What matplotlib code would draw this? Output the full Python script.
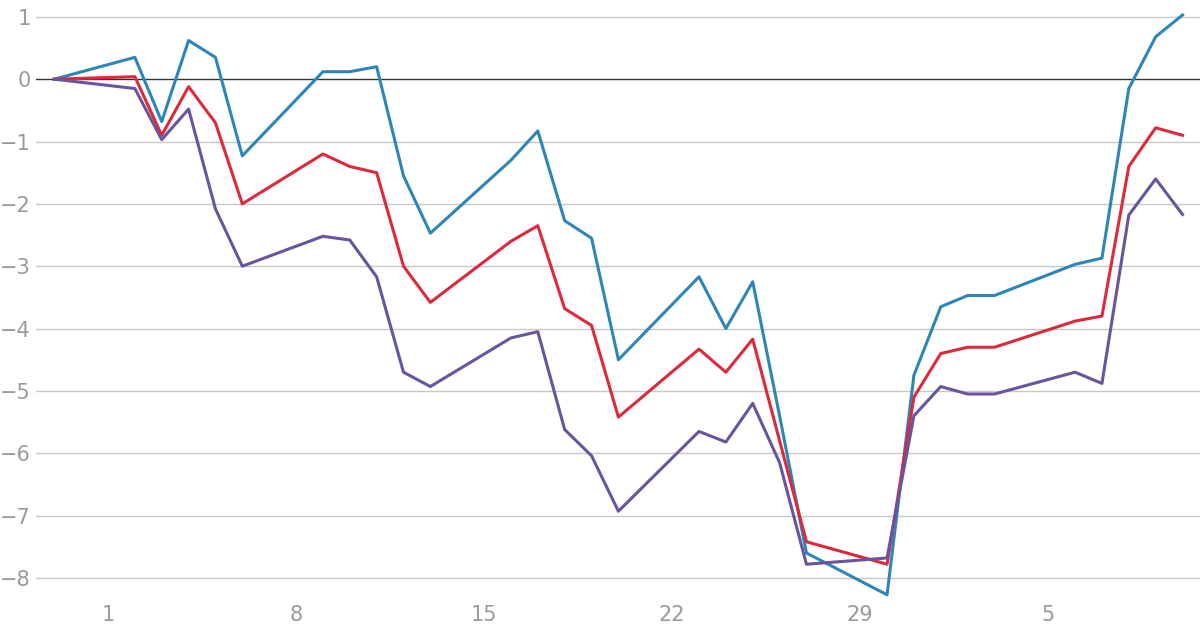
import matplotlib
matplotlib.use("Agg")
import matplotlib.pyplot as plt

days = [-1, 2, 3, 4, 5, 6, 9, 10, 11, 12, 13, 16, 17, 18, 19, 20, 23, 24, 25, 26, 27, 30, 31, 32, 33, 34, 37, 38, 39, 40, 41]
blue = [0, 0.35, -0.68, 0.62, 0.35, -1.23, 0.12, 0.12, 0.2, -1.55, -2.47, -1.3, -0.83, -2.27, -2.55, -4.5,
        -3.17, -4.0, -3.25, -5.4, -7.6, -8.27, -4.75, -3.65, -3.47, -3.47, -2.97, -2.87, -0.15, 0.68, 1.03]
red = [0, 0.04, -0.9, -0.12, -0.7, -2.0, -1.2, -1.4, -1.5, -3.0, -3.58, -2.6, -2.35, -3.68, -3.95, -5.42,
       -4.33, -4.7, -4.17, -5.8, -7.42, -7.78, -5.1, -4.4, -4.3, -4.3, -3.88, -3.8, -1.4, -0.78, -0.9]
purple = [0, -0.15, -0.97, -0.48, -2.08, -3.0, -2.52, -2.58, -3.17, -4.7, -4.93, -4.15, -4.05, -5.62, -6.04, -6.93,
          -5.65, -5.82, -5.2, -6.15, -7.78, -7.68, -5.4, -4.93, -5.05, -5.05, -4.7, -4.88, -2.18, -1.6, -2.17]
xtick_pos = [1, 8, 15, 22, 29, 36]
xtick_labels = ["1", "8", "15", "22", "29", "5"]
yticks = [1, 0, -1, -2, -3, -4, -5, -6, -7, -8]

fig = plt.figure(figsize=(12, 6.3), dpi=100)
ax = fig.add_axes([0.03, 0.048, 0.97, 0.952])
for y in yticks:
    if y != 0:
        ax.axhline(y, color="#c8c8c8", lw=1, zorder=0)
ax.axhline(0, color="#333333", lw=1, zorder=1)
ax.plot(days, blue, color="#2e86b8", lw=2.2, zorder=3)
ax.plot(days, red, color="#dc2a3c", lw=2.2, zorder=3)
ax.plot(days, purple, color="#6a549e", lw=2.2, zorder=3)
ax.set_xlim(-1.68, 41.65)
ax.set_ylim(-8.35, 1.27)
ax.set_yticks(yticks)
ax.set_yticklabels([str(y).replace("-", "\u2212") for y in yticks])
ax.set_xticks(xtick_pos)
ax.set_xticklabels(xtick_labels)
for s in ax.spines.values():
    s.set_visible(False)
ax.tick_params(length=0, labelsize=15, colors="#9a9a9a")
ax.tick_params(axis="y", pad=4)
for lab in ax.get_yticklabels():
    lab.set_horizontalalignment("right")
fig.savefig("out.png", dpi=100)
